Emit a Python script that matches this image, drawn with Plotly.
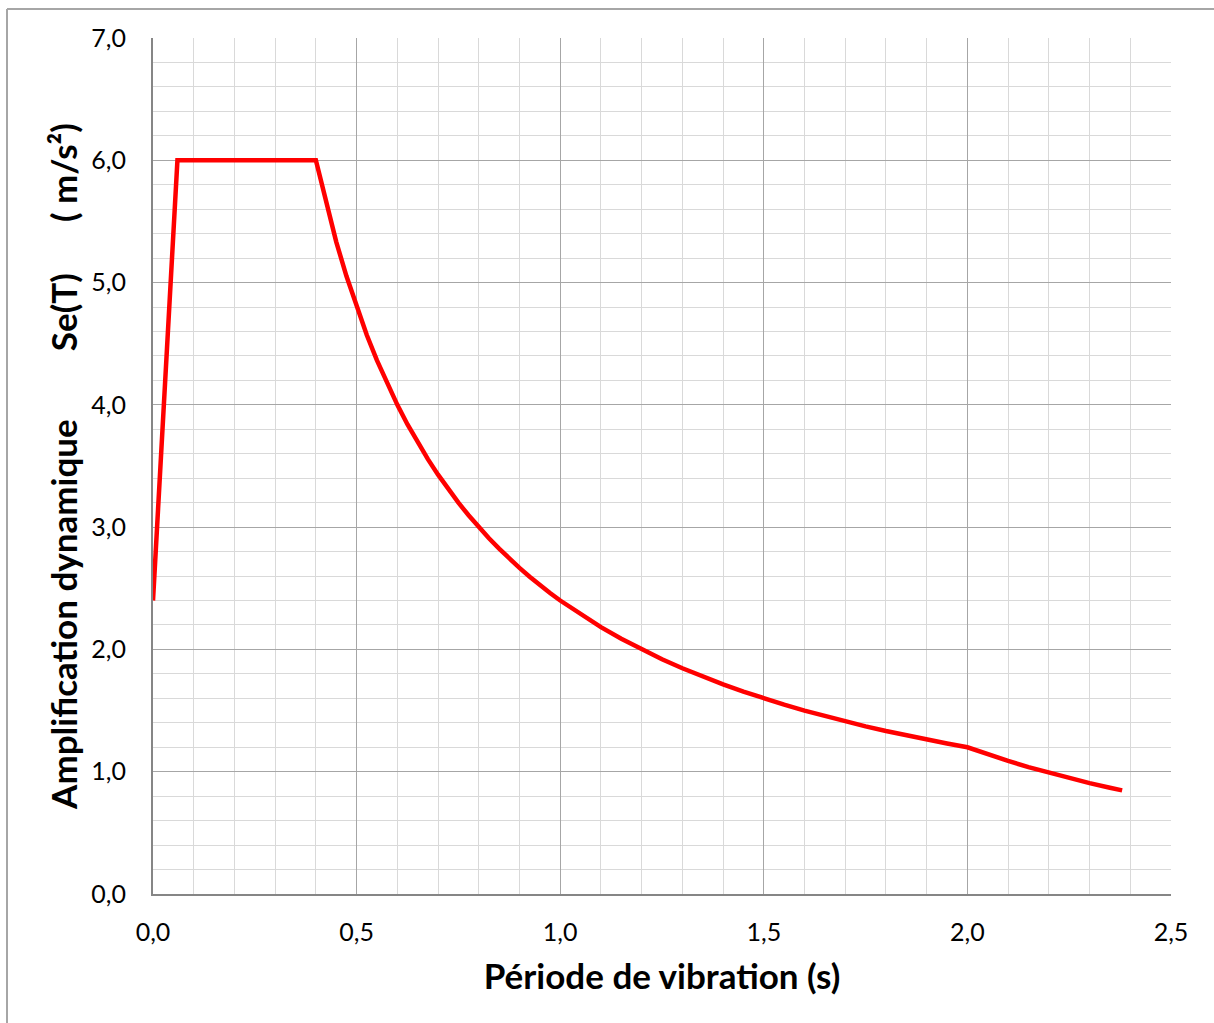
import plotly.graph_objects as go

# Période T (s) and spectral acceleration Se(T) (m/s²)
periode = [0.0, 0.06, 0.40, 0.425, 0.45, 0.475, 0.50, 0.525, 0.55, 0.575, 0.60,
           0.625, 0.65, 0.675, 0.70, 0.725, 0.75, 0.775, 0.80, 0.825, 0.85,
           0.875, 0.90, 0.925, 0.95, 0.975, 1.00, 1.05, 1.10, 1.15, 1.20, 1.25,
           1.30, 1.35, 1.40, 1.45, 1.50, 1.55, 1.60, 1.65, 1.70, 1.75, 1.80,
           1.85, 1.90, 1.95, 2.00, 2.05, 2.10, 2.15, 2.20, 2.25, 2.30, 2.35, 2.38]
se_t = [2.40, 6.00, 6.00, 5.647, 5.333, 5.053, 4.80, 4.571, 4.364, 4.174, 4.00,
        3.84, 3.692, 3.556, 3.429, 3.31, 3.20, 3.097, 3.00, 2.909, 2.824,
        2.743, 2.667, 2.595, 2.526, 2.462, 2.40, 2.286, 2.182, 2.087, 2.00, 1.92,
        1.846, 1.778, 1.714, 1.655, 1.60, 1.548, 1.50, 1.455, 1.412, 1.371, 1.333,
        1.297, 1.263, 1.231, 1.20, 1.142, 1.088, 1.038, 0.992, 0.948, 0.907, 0.869, 0.847]

x_ticks = [0.0, 0.5, 1.0, 1.5, 2.0, 2.5]
x_labels = ["0,0", "0,5", "1,0", "1,5", "2,0", "2,5"]
y_ticks = [0, 1, 2, 3, 4, 5, 6, 7]
y_labels = ["0,0", "1,0", "2,0", "3,0", "4,0", "5,0", "6,0", "7,0"]

FONT = "Lato"
SP = "&nbsp;"

fig = go.Figure()
fig.add_trace(go.Scatter(
    x=periode, y=se_t, mode="lines",
    line=dict(color="#FF0000", width=4.5),
    showlegend=False, hoverinfo="skip",
))

y_title = ("<b>Amplification dynamique" + SP * 8 + "Se(T)" + SP * 6 + "( m/s²)</b>")

fig.update_layout(
    width=1214, height=1023,
    margin=dict(l=153, r=43, t=38, b=129),
    paper_bgcolor="white", plot_bgcolor="white",
    font=dict(family=FONT, color="black"),
    xaxis=dict(
        range=[0, 2.5], tickvals=x_ticks, ticktext=x_labels,
        tickfont=dict(size=25, family=FONT), ticks="", ticklabelstandoff=15,
        showgrid=True, gridcolor="#A6A6A6", gridwidth=1,
        minor=dict(dtick=0.1, showgrid=True, gridcolor="#D9D9D9", gridwidth=1),
        showline=True, linecolor="#868686", linewidth=2, mirror=False,
        zeroline=False,
        title=dict(text="<b>Période de vibration (s)</b>",
                   font=dict(size=35, family=FONT), standoff=19),
    ),
    yaxis=dict(
        range=[0, 7], tickvals=y_ticks, ticktext=y_labels,
        tickfont=dict(size=25, family=FONT), ticks="", ticklabelstandoff=20,
        showgrid=True, gridcolor="#A6A6A6", gridwidth=1,
        minor=dict(dtick=0.2, showgrid=True, gridcolor="#D9D9D9", gridwidth=1),
        showline=True, linecolor="#868686", linewidth=2, mirror=False,
        zeroline=False,
        title=dict(text=y_title, font=dict(size=35, family=FONT), standoff=3),
    ),
    shapes=[
        dict(type="line", xref="paper", yref="paper",
             x0=-146 / 1018, x1=1.2, y0=885 / 856, y1=885 / 856,
             line=dict(color="#A6A6A6", width=2), layer="below"),
        dict(type="line", xref="paper", yref="paper",
             x0=-146 / 1018, x1=-146 / 1018, y0=-0.2, y1=885 / 856,
             line=dict(color="#A6A6A6", width=2), layer="below"),
    ],
)

fig.write_html(
    "out.html",
    config={"displayModeBar": False},
    post_script="document.body.style.margin='0';document.body.style.overflow='hidden';",
)
